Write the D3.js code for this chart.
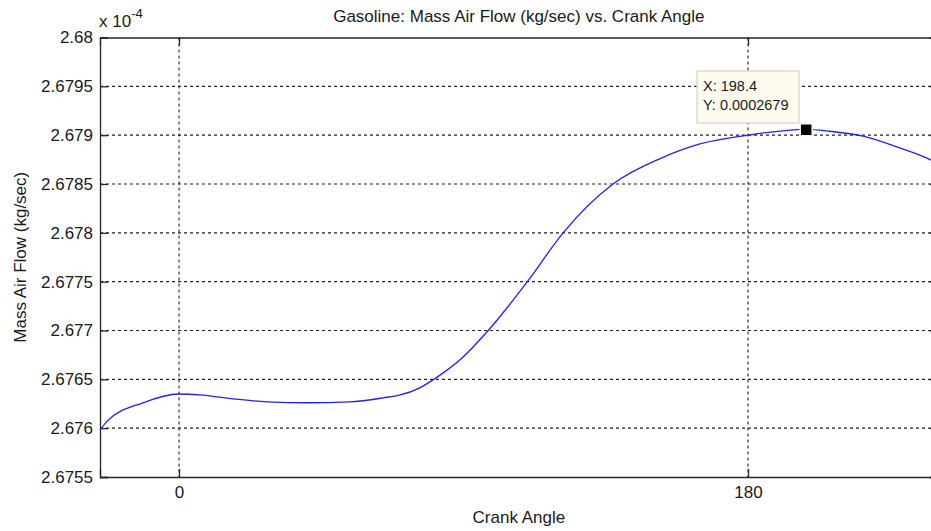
<!DOCTYPE html>
<meta charset="utf-8">
<style>
    body { margin: 0; overflow: hidden; background: #fff; }
    text { font-family: "Liberation Sans", Arial, sans-serif; fill: #1a1a1a; }
    .grid line { stroke: #222; stroke-dasharray: 3,3; stroke-width: 1.1; }
</style>
<svg id="canvas" width="931" height="531"></svg>
<script src="https://d3js.org/d3.v7.min.js"></script>
<script>

    // crank angle (deg) and mass air flow (x 1e-4 kg/sec)
    var angle = [-25, -22.8, -11.4, 0, 6.6, 17.1, 27.8, 40.5, 54.1, 64.5, 70, 76, 82, 88.9,
                 97.8, 110.2, 121.5, 137.3, 152.2, 164.8, 180, 198.4, 205.9, 216.4, 227.1, 237.6, 240];
    var flow  = [2.67598, 2.67607, 2.67626, 2.67635, 2.67634, 2.67630, 2.67627, 2.67626, 2.67627,
                 2.67631, 2.67634, 2.67641, 2.67653, 2.6767, 2.6770, 2.6775, 2.6780, 2.6785, 2.67876,
                 2.67891, 2.67900, 2.67906, 2.67904, 2.67899, 2.67888, 2.67875, 2.67871];

    var xTicks = [0, 180];
    var yTicks = [2.6755, 2.676, 2.6765, 2.677, 2.6775, 2.678, 2.6785, 2.679, 2.6795, 2.68];
    var tip = {x: 198.4, y: 2.679055, label: ["X: 198.4", "Y: 0.0002679"]};

    var svg = d3.select("svg");
    var mLeft = 100, mRight = 937.7, mTop = 37.5, mBottom = 477;

    var x = d3.scaleLinear().domain([-25, 240]).range([mLeft, mRight]);
    var y = d3.scaleLinear().domain([2.6755, 2.68]).range([mBottom, mTop]);

    var fmt = function(v) { return String(+v.toFixed(4)); };

    // grid
    var grid = svg.append("g").attr("class", "grid");
    grid.selectAll(".gx").data(xTicks).enter().append("line")
        .attr("x1", d => x(d)).attr("x2", d => x(d))
        .attr("y1", mTop).attr("y2", mBottom);
    grid.selectAll(".gy").data(yTicks.slice(1, -1)).enter().append("line")
        .attr("x1", mLeft).attr("x2", mRight)
        .attr("y1", d => y(d)).attr("y2", d => y(d));

    // axes (ticks pointing inward, box on)
    var ax = svg.append("g")
        .attr("transform", "translate(0," + mBottom + ")")
        .call(d3.axisBottom(x).tickValues(xTicks).tickSize(-8).tickPadding(9).tickFormat(d3.format("d")));
    var ay = svg.append("g")
        .attr("transform", "translate(" + mLeft + ",0)")
        .call(d3.axisLeft(y).tickValues(yTicks).tickSize(-8).tickPadding(7).tickFormat(fmt));
    var axTop = svg.append("g")
        .attr("transform", "translate(0," + mTop + ")")
        .call(d3.axisTop(x).tickValues(xTicks).tickSize(-8).tickFormat(""));
    var ayRight = svg.append("g")
        .attr("transform", "translate(" + mRight + ",0)")
        .call(d3.axisRight(y).tickValues(yTicks).tickSize(-8).tickFormat(""));

    [ax, ay, axTop, ayRight].forEach(function(g) {
        g.select(".domain").attr("stroke", "#262626").attr("stroke-width", 1.3);
        g.selectAll(".tick line").attr("stroke", "#262626").attr("stroke-width", 1.3);
        g.selectAll("text").attr("font-size", 17).attr("font-family", "Liberation Sans, Arial, sans-serif")
            .attr("fill", "#1a1a1a");
    });

    // curve
    var line = d3.line().x((d, i) => x(angle[i])).y(d => y(d)).curve(d3.curveMonotoneX);
    svg.append("path").datum(flow)
        .attr("d", line)
        .attr("fill", "none")
        .attr("stroke", "#1f1fff")
        .attr("stroke-width", 1.3);

    // data tip
    var tx = x(tip.x), ty = y(tip.y);
    svg.append("rect").attr("x", tx - 6).attr("y", ty - 6).attr("width", 12).attr("height", 12)
        .attr("fill", "#000").attr("stroke", "#fff8e8").attr("stroke-width", 1.5);
    svg.append("rect").attr("x", 697).attr("y", 71).attr("width", 102).attr("height", 52)
        .attr("fill", "#fffaee").attr("stroke", "#d8d2c4").attr("stroke-width", 1.2);
    svg.append("text").attr("x", 703).attr("y", 91).attr("font-size", 14.5).text(tip.label[0]);
    svg.append("text").attr("x", 703).attr("y", 110).attr("font-size", 14.5).text(tip.label[1]);

    // labels
    svg.append("text").attr("x", (mLeft + mRight) / 2).attr("y", 22).attr("text-anchor", "middle")
        .attr("font-size", 17).text("Gasoline: Mass Air Flow (kg/sec) vs. Crank Angle");
    svg.append("text").attr("x", (mLeft + mRight) / 2).attr("y", 523).attr("text-anchor", "middle")
        .attr("font-size", 17).text("Crank Angle");
    svg.append("text").attr("transform", "translate(26," + (mTop + mBottom) / 2 + ") rotate(-90)")
        .attr("text-anchor", "middle").attr("font-size", 17).text("Mass Air Flow (kg/sec)");

    var ex = svg.append("text").attr("x", 99).attr("y", 27).attr("font-size", 17);
    ex.append("tspan").text("x 10");
    ex.append("tspan").attr("dy", -9).attr("font-size", 13).text("-4");

</script>
